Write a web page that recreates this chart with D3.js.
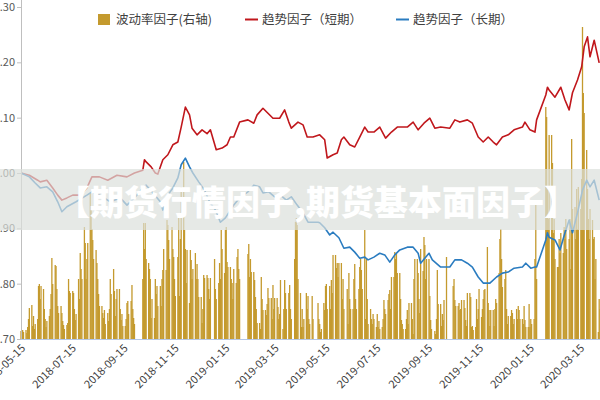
<!DOCTYPE html>
<html>
<head>
<meta charset="utf-8">
<script src="https://cdn.jsdelivr.net/npm/d3@7"></script>
<style>
  body { margin: 0; background: #fff; }
  text { font-family: "Noto Sans CJK SC", "Noto Sans", sans-serif; }
</style>
</head>
<body>
<div id="chart"></div>
<script>
// ---- data ----
var leftTicks = [0.70, 0.80, 0.90, 1.00, 1.10, 1.20, 1.30];
var xTickDates = ["2018-05-15", "2018-07-15", "2018-09-15", "2018-11-15", "2019-01-15",
  "2019-03-15", "2019-05-15", "2019-07-15", "2019-09-15", "2019-11-15", "2020-01-15", "2020-03-15"];
var seriesNames = ["波动率因子(右轴)", "趋势因子（短期）", "趋势因子（长期）"];

// volatility factor (right axis), one row per week Mon..Fri, 0 = no trading
var barWeekStart = "2018-05-14";
var barWeeks = [
  [0, 0.8, 0.5, 0.9, 0.7], [0.9, 0.6, 1.2, 2.0, 3.1], [3.4, 1.3, 2.3, 1.0, 1.5], [2.0, 5.3, 5.5, 4.0, 5.3],
  [5.0, 3.0, 2.0, 1.2, 1.8], [2.3, 3.0, 4.5, 8.1, 5.5], [7.4, 7.3, 5.0, 3.3, 2.6], [3.3, 2.6, 1.8, 1.4, 1.0],
  [1.4, 1.6, 6.0, 4.8, 4.6], [4.8, 4.6, 3.0, 1.9, 2.5], [6.0, 4.0, 8.6, 7.0, 6.0], [11.2, 9.6, 6.0, 8.0, 9.6],
  [14.6, 12.9, 11.0, 9.9, 8.0], [8.9, 7.6, 6.0, 4.5, 3.3], [3.3, 2.6, 2.1, 2.9, 1.5], [2.6, 1.8, 3.0, 6.0, 4.5],
  [7.0, 4.8, 2.3, 4.0, 5.0], [5.0, 3.0, 1.9, 2.5, 1.3], [1.3, 2.0, 3.6, 3.8, 2.5], [3.8, 5.4, 3.0, 2.1, 1.5],
  [0, 0, 0, 0, 0], [6.0, 11.6, 9.0, 11.6, 8.0], [7.6, 7.0, 6.0, 2.1, 4.0], [2.1, 6.0, 4.5, 5.3, 3.3],
  [5.3, 3.3, 6.0, 6.9, 9.0], [6.9, 11.9, 11.4, 9.9, 8.0], [11.2, 9.0, 8.2, 6.0, 4.3], [8.2, 12.2, 4.3, 10.0, 15.2],
  [17.7, 10.9, 9.0, 5.6, 8.9], [3.6, 8.9, 7.9, 6.0, 7.0], [8.6, 6.0, 7.5, 6.0, 4.2], [4.2, 1.6, 3.0, 6.4, 6.1],
  [6.4, 6.1, 5.0, 4.0, 6.1], [0, 0, 8.0, 5.0, 4.0], [5.6, 7.6, 6.0, 10.9, 9.0], [6.6, 10.9, 11.2, 7.7, 7.2],
  [7.2, 6.0, 5.6, 4.0, 7.0], [5.6, 8.2, 9.0, 7.0, 6.0], [0, 0, 0, 0, 0], [8.5, 9.5, 6.2, 8.0, 6.7],
  [6.7, 5.9, 4.2, 3.0, 1.6], [1.6, 1.0, 6.2, 4.0, 2.9], [2.9, 2.4, 3.5, 5.1, 4.1], [4.1, 2.0, 5.4, 3.0, 4.1],
  [4.1, 3.2, 2.0, 2.5, 5.9], [1.0, 3.0, 5.9, 4.6, 3.0], [4.6, 5.4, 3.0, 2.0, 0], [8.0, 11.7, 12.1, 11.4, 6.0],
  [4.6, 1.2, 3.0, 1.2, 2.0], [4.6, 3.0, 4.3, 2.0, 1.5], [4.3, 2.0, 0, 0, 0], [3.6, 2.0, 1.5, 0.7, 1.0],
  [3.6, 2.9, 5.3, 5.5, 3.0], [5.3, 3.0, 5.9, 4.6, 8.4], [8.4, 7.1, 7.6, 6.2, 7.6], [7.6, 4.0, 6.0, 3.0, 0],
  [5.0, 1.5, 6.6, 4.0, 3.0], [3.0, 6.0, 7.5, 4.0, 3.0], [5.0, 7.2, 8.0, 6.9, 5.0], [10.9, 2.0, 8.0, 4.0, 1.5],
  [3.0, 2.0, 1.5, 2.5, 2.0], [1.2, 2.5, 1.2, 1.8, 1.0], [1.2, 2.0, 3.9, 3.0, 2.5], [3.9, 4.5, 4.9, 3.0, 6.2],
  [6.2, 8.7, 8.0, 8.5, 6.6], [6.6, 4.0, 1.9, 1.5, 1.0], [1.0, 2.0, 2.9, 1.5, 3.6], [3.6, 2.0, 0.5, 6.0, 8.0],
  [8.0, 6.6, 4.0, 2.6, 9.0], [6.8, 10.2, 9.4, 6.0, 8.0], [8.0, 4.3, 1.9, 1.0, 0], [0.8, 0.5, 2.0, 6.9, 3.5],
  [3.5, 1.3, 2.5, 1.9, 3.9], [8.2, 0, 0, 0, 0], [0, 5.3, 6.0, 3.9, 3.3], [3.3, 3.6, 2.9, 3.0, 3.9],
  [3.9, 3.1, 1.9, 1.3, 4.6], [4.6, 4.2, 1.2, 1.3, 0.9], [1.2, 4.0, 2.0, 3.0, 5.0], [2.2, 3.0, 4.0, 4.9, 5.0],
  [9.2, 3.6, 2.9, 1.3, 2.9], [2.9, 1.3, 3.0, 4.0, 3.6], [6.6, 10.0, 11.0, 8.0, 5.2], [6.0, 6.9, 3.0, 1.5, 2.3],
  [2.3, 2.9, 2.6, 1.5, 2.0], [3.0, 2.0, 3.3, 2.9, 2.0], [2.0, 1.5, 3.3, 1.9, 1.2], [1.2, 3.5, 1.2, 2.0, 1.5],
  [2.0, 8.0, 13.4, 6.0, 0], [0, 0, 0, 0, 0], [23.2, 22.2, 15.0, 12.0, 20.4], [20.4, 17.6, 10.6, 12.0, 8.0],
  [7.2, 7.2, 10.0, 8.6, 10.6], [8.6, 11.2, 10.0, 12.0, 9.0], [10.0, 12.0, 7.0, 20.0, 13.0], [13.2, 10.0, 15.0, 11.0, 15.2],
  [13.0, 16.0, 31.2, 24.6, 22.6], [18.9, 15.0, 12.0, 10.0, 13.0], [11.9, 10.0, 10.2, 6.0, 8.0], [0.7, 4.0, 3.0, 2.0, 1.0]
];

var shortDates = ["2018-05-15", "2018-05-25", "2018-06-04", "2018-06-07", "2018-06-15", "2018-06-22", "2018-06-28",
  "2018-07-03", "2018-07-09", "2018-07-16", "2018-07-25", "2018-08-02", "2018-08-08", "2018-08-17", "2018-08-27",
  "2018-09-07", "2018-09-19", "2018-09-28", "2018-10-08", "2018-10-10", "2018-10-12", "2018-10-18", "2018-10-23",
  "2018-10-26", "2018-11-01", "2018-11-07", "2018-11-13", "2018-11-19", "2018-11-23", "2018-11-28", "2018-12-03",
  "2018-12-06", "2018-12-12", "2018-12-18", "2018-12-24", "2018-12-28", "2019-01-04", "2019-01-11", "2019-01-17",
  "2019-01-21", "2019-01-25", "2019-02-01", "2019-02-11", "2019-02-18", "2019-02-22", "2019-03-01", "2019-03-07",
  "2019-03-13", "2019-03-21", "2019-03-27", "2019-04-01", "2019-04-04", "2019-04-12", "2019-04-18", "2019-04-23",
  "2019-04-30", "2019-05-08", "2019-05-14", "2019-05-17", "2019-05-24", "2019-05-29", "2019-06-03", "2019-06-06",
  "2019-06-13", "2019-06-19", "2019-06-25", "2019-07-01", "2019-07-05", "2019-07-12", "2019-07-19", "2019-07-26",
  "2019-08-02", "2019-08-09", "2019-08-15", "2019-08-21", "2019-08-28", "2019-09-03", "2019-09-10", "2019-09-17",
  "2019-09-23", "2019-09-30", "2019-10-11", "2019-10-17", "2019-10-23", "2019-11-01", "2019-11-07", "2019-11-14",
  "2019-11-20", "2019-11-26", "2019-12-02", "2019-12-06", "2019-12-13", "2019-12-20", "2019-12-27", "2020-01-06",
  "2020-01-09", "2020-01-15", "2020-01-21", "2020-01-23", "2020-02-03", "2020-02-05", "2020-02-07", "2020-02-14",
  "2020-02-21", "2020-02-26", "2020-03-02", "2020-03-06", "2020-03-12", "2020-03-17", "2020-03-20", "2020-03-24",
  "2020-03-27", "2020-04-01", "2020-04-07"];
var shortValues = [1.000, 0.996, 0.987, 0.984, 0.987, 0.973, 0.960,
  0.951, 0.955, 0.960, 0.960, 0.973, 0.993, 0.993, 0.987,
  0.996, 0.993, 1.000, 1.005, 1.024, 1.020, 1.011, 1.000,
  0.998, 1.024, 1.033, 1.051, 1.056, 1.083, 1.119, 1.105,
  1.081, 1.069, 1.078, 1.071, 1.078, 1.042, 1.045, 1.051,
  1.065, 1.065, 1.092, 1.096, 1.090, 1.105, 1.117, 1.108,
  1.099, 1.099, 1.114, 1.092, 1.081, 1.092, 1.087, 1.065,
  1.065, 1.069, 1.060, 1.027, 1.033, 1.036, 1.060, 1.065,
  1.051, 1.047, 1.065, 1.083, 1.074, 1.074, 1.083, 1.063,
  1.074, 1.083, 1.083, 1.083, 1.092, 1.078, 1.090, 1.099,
  1.081, 1.083, 1.081, 1.096, 1.092, 1.096, 1.090, 1.065,
  1.056, 1.065, 1.056, 1.051, 1.065, 1.069, 1.078, 1.083,
  1.092, 1.078, 1.074, 1.096, 1.141, 1.155, 1.150, 1.137,
  1.155, 1.132, 1.114, 1.145, 1.168, 1.192, 1.228, 1.246,
  1.210, 1.240, 1.199];

var longDates = ["2018-05-15", "2018-05-25", "2018-06-01", "2018-06-07", "2018-06-15", "2018-06-22", "2018-06-28",
  "2018-07-03", "2018-07-09", "2018-07-20", "2018-08-02", "2018-08-08", "2018-08-17", "2018-08-30", "2018-09-11",
  "2018-09-19", "2018-09-28", "2018-10-08", "2018-10-12", "2018-10-19", "2018-10-29", "2018-11-01", "2018-11-07",
  "2018-11-13", "2018-11-19", "2018-11-23", "2018-11-28", "2018-12-03", "2018-12-07", "2018-12-14", "2018-12-21",
  "2018-12-27", "2019-01-03", "2019-01-09", "2019-01-15", "2019-01-21", "2019-01-25", "2019-02-01", "2019-02-11",
  "2019-02-18", "2019-02-25", "2019-03-01", "2019-03-08", "2019-03-15", "2019-03-22", "2019-03-29", "2019-04-04",
  "2019-04-11", "2019-04-18", "2019-04-24", "2019-05-06", "2019-05-08", "2019-05-14", "2019-05-20", "2019-05-24",
  "2019-05-31", "2019-06-06", "2019-06-13", "2019-06-19", "2019-06-25", "2019-07-01", "2019-07-05", "2019-07-12",
  "2019-07-19", "2019-07-25", "2019-07-31", "2019-08-06", "2019-08-12", "2019-08-21", "2019-08-28", "2019-09-03",
  "2019-09-06", "2019-09-16", "2019-09-20", "2019-09-30", "2019-10-11", "2019-10-17", "2019-10-25", "2019-11-01",
  "2019-11-07", "2019-11-14", "2019-11-20", "2019-11-28", "2019-12-06", "2019-12-13", "2019-12-20", "2019-12-27",
  "2020-01-06", "2020-01-10", "2020-01-16", "2020-01-21", "2020-01-23", "2020-02-03", "2020-02-05", "2020-02-07",
  "2020-02-14", "2020-02-20", "2020-02-26", "2020-03-02", "2020-03-06", "2020-03-12", "2020-03-18", "2020-03-23",
  "2020-03-27", "2020-04-01", "2020-04-07"];
var longValues = [1.000, 0.993, 0.982, 0.973, 0.975, 0.966, 0.948,
  0.930, 0.939, 0.948, 0.960, 0.966, 0.960, 0.948, 0.955,
  0.942, 0.955, 0.973, 0.978, 0.966, 0.948, 0.933, 0.960,
  0.973, 0.991, 1.015, 1.027, 1.011, 1.000, 0.984, 0.969,
  0.948, 0.933, 0.911, 0.919, 0.933, 0.942, 0.955, 0.966,
  0.978, 0.975, 0.964, 0.966, 0.957, 0.960, 0.951, 0.957,
  0.942, 0.928, 0.911, 0.911, 0.910, 0.901, 0.888, 0.893,
  0.883, 0.864, 0.866, 0.857, 0.846, 0.848, 0.843, 0.848,
  0.855, 0.852, 0.839, 0.852, 0.861, 0.866, 0.866, 0.855,
  0.837, 0.855, 0.843, 0.830, 0.830, 0.843, 0.843, 0.837,
  0.830, 0.812, 0.801, 0.801, 0.812, 0.819, 0.821, 0.828,
  0.830, 0.837, 0.828, 0.830, 0.830, 0.879, 0.892, 0.884,
  0.879, 0.861, 0.892, 0.915, 0.892, 0.928, 0.969, 0.987,
  0.975, 0.987, 0.951];

// ---- chart ----
var W = 600, H = 400;
var colors = { bar: "#C49A2E", short: "#C0171C", long: "#2A7CC0" };
var parse = d3.timeParse("%Y-%m-%d");

var svg = d3.select("#chart").append("svg")
    .attr("width", W)
    .attr("height", H)
    .style("background", "#fff");

var x = d3.scaleTime()
    .domain([parse("2018-05-15"), parse("2020-03-15")])
    .range([21, 580]);
var y = d3.scaleLinear().domain([0.7, 1.3]).range([339, 7]);
// right axis (cropped off in the picture)
var yR = d3.scaleLinear().domain([0, 35]).range([339, -11]);

// bars
var bars = [];
var ws = parse(barWeekStart);
barWeeks.forEach(function(week, k) {
    week.forEach(function(v, i) {
        if (v > 0) bars.push({ date: d3.timeDay.offset(ws, 7 * k + i), value: v });
    });
});
var barW = 1.3;
svg.append("g").selectAll("rect")
    .data(bars)
    .enter().append("rect")
        .attr("x", function(d) { return x(d.date) - barW / 2; })
        .attr("y", function(d) { return yR(d.value); })
        .attr("width", barW)
        .attr("height", function(d) { return yR(0) - yR(d.value); })
        .attr("fill", colors.bar);

// lines
var line = d3.line()
    .x(function(d) { return x(d.date); })
    .y(function(d) { return y(d.value); });

function series(dates, values) {
    return dates.map(function(d, i) { return { date: parse(d), value: values[i] }; });
}

svg.append("path")
    .datum(series(shortDates, shortValues))
    .attr("d", line)
    .attr("fill", "none")
    .attr("stroke", colors.short)
    .attr("stroke-width", 1.6)
    .attr("stroke-linejoin", "round");

svg.append("path")
    .datum(series(longDates, longValues))
    .attr("d", line)
    .attr("fill", "none")
    .attr("stroke", colors.long)
    .attr("stroke-width", 1.6)
    .attr("stroke-linejoin", "round");

// left axis
var yAxis = svg.append("g")
    .attr("transform", "translate(21,0)")
    .call(d3.axisLeft(y).tickValues(leftTicks).tickFormat(d3.format(".2f")).tickSize(4));
yAxis.select(".domain").remove();
yAxis.selectAll("line").attr("stroke", "#bfbfbf");
yAxis.selectAll("text").attr("fill", "#595959").style("font-size", "11px").attr("x", -6);
svg.append("line")
    .attr("x1", 21.5).attr("x2", 21.5)
    .attr("y1", 0).attr("y2", 339)
    .attr("stroke", "#bfbfbf");

// bottom axis
svg.append("line")
    .attr("x1", 21).attr("x2", W)
    .attr("y1", 339.5).attr("y2", 339.5)
    .attr("stroke", "#b4c7e7");
svg.append("g").selectAll("text")
    .data(xTickDates)
    .enter().append("text")
        .attr("transform", function(d) {
            return "translate(" + (x(parse(d)) + 5) + ",349) rotate(-45)";
        })
        .attr("text-anchor", "end")
        .attr("fill", "#404040")
        .style("font-size", "11px")
        .text(function(d) { return d; });

// watermark band
svg.append("rect")
    .attr("x", 0).attr("y", 169)
    .attr("width", W).attr("height", 61)
    .attr("fill", "rgb(219,224,219)")
    .attr("opacity", 0.7);
svg.append("text")
    .attr("x", 317)
    .attr("y", 215)
    .attr("text-anchor", "middle")
    .attr("fill", "#fff")
    .style("font-size", "34px")
    .style("font-weight", "900")
    .text("【期货行情因子,期货基本面因子】");

// legend
var lg = svg.append("g").style("font-size", "12.5px");
lg.append("rect")
    .attr("x", 98).attr("y", 14)
    .attr("width", 12).attr("height", 11)
    .attr("fill", colors.bar);
lg.append("text").attr("x", 116).attr("y", 24).attr("fill", "#404040").text(seriesNames[0]);
lg.append("line")
    .attr("x1", 245).attr("x2", 258).attr("y1", 19.5).attr("y2", 19.5)
    .attr("stroke", colors.short).attr("stroke-width", 2);
lg.append("text").attr("x", 262).attr("y", 24).attr("fill", "#404040").text(seriesNames[1]);
lg.append("line")
    .attr("x1", 396).attr("x2", 409).attr("y1", 19.5).attr("y2", 19.5)
    .attr("stroke", colors.long).attr("stroke-width", 2);
lg.append("text").attr("x", 413).attr("y", 24).attr("fill", "#404040").text(seriesNames[2]);
</script>
</body>
</html>
